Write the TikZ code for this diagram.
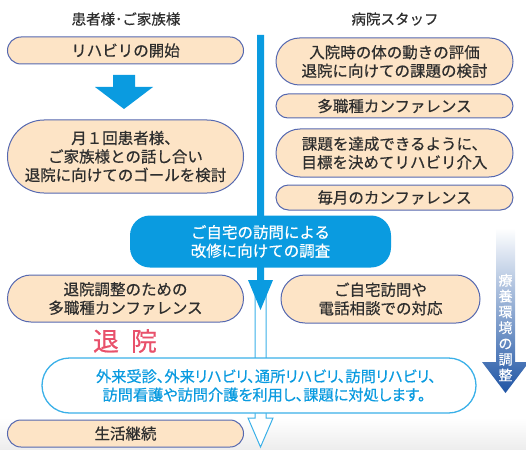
\documentclass[tikz,border=0pt]{standalone}
\usepackage{fontspec}
\newfontfamily\jpfont{Noto Sans CJK JP}[FakeBold=0.5]
\newfontfamily\jppfont{Noto Sans CJK JP}[FakeBold=0.5,RawFeature=+palt]
\usetikzlibrary{shapes.misc}
\definecolor{boxfill}{HTML}{FDE4C6}
\definecolor{boxline}{HTML}{5568B0}
\definecolor{flowblue}{HTML}{0A9BE0}
\definecolor{lineblue}{HTML}{3AB0E8}
\definecolor{textgray}{HTML}{2E2E2E}
\definecolor{leavered}{HTML}{E8516B}
\definecolor{darkblue}{HTML}{1F55A5}
\tikzset{
  pill/.style={rounded rectangle, draw=boxline, fill=boxfill, line width=1pt,
    inner sep=0pt, align=center, text=textgray,
    font=\jpfont\fontsize{15.5}{18.5}\selectfont},
  head/.style={text=textgray, font=\jpfont\fontsize{14.5}{17}\selectfont}
}
\begin{document}
\begin{tikzpicture}[x=1pt,y=-1pt]
    \useasboundingbox (0,0) rectangle (526,449);
    \shade[top color=white,bottom color=gray!14] (0,418) rectangle (526,449);
    \node[head] (hpat) at (126,19) {患者様･ご家族様};
    \node[head] (hstaff) at (395,19) {病院スタッフ};
    \coordinate (flowtop) at (260.5,35);
    \coordinate (flowhead) at (260.5,280);
    \coordinate (flowtip) at (260.5,310);
    \coordinate (homehead) at (260.5,418);
    \coordinate (hometip) at (260.5,447);
    % open arrow down to the end
    \draw[lineblue,fill=white,line width=1pt] ([xshift=-5.5]flowhead) -- ([xshift=-5.5]homehead)
        -- ([xshift=-12.5]homehead) -- (hometip) -- ([xshift=12.5]homehead)
        -- ([xshift=5.5]homehead) -- ([xshift=5.5]flowhead);
    % main blue arrow
    \fill[flowblue] ([xshift=-3.5]flowtop) -- ([xshift=-3.5]flowhead) -- ([xshift=-12.5]flowhead)
        -- (flowtip) -- ([xshift=12.5]flowhead) -- ([xshift=3.5]flowhead) -- ([xshift=3.5]flowtop) -- cycle;
    \node[fill=flowblue,rounded corners=20pt,minimum width=261,minimum height=52,inner sep=0pt,
        text=white,align=center,font=\jpfont\fontsize{15.5}{18.5}\selectfont] (survey) at (260.5,241.5)
        {ご自宅の訪問による\\改修に向けての調査};
    \node[rounded rectangle,draw=lineblue,fill=white,line width=1.3pt,minimum width=434,minimum height=55,
        inner sep=0pt,text=flowblue,align=center,font=\jppfont\fontsize{15.2}{18.5}\selectfont] (home) at (259,385.5)
        {\hspace*{14pt}外来受診、外来リハビリ、通所リハビリ、訪問リハビリ、\\\hspace*{10pt}訪問看護や訪問介護を利用し、課題に対処します。};
    % patient side
    \foreach \n/\y/\h/\t in {start/50.5/27/{リハビリの開始},
        talk/156.5/73/{月１回患者様、\\ご家族様との話し合い\\退院に向けてのゴールを検討},
        plan/298.5/47/{退院調整のための\\多職種カンファレンス},
        life/433.5/27/{生活継続}} {
        \node[pill,minimum width=236,minimum height=\h] (\n) at (125.5,\y) {\t};
    }
    \fill[flowblue] (113,75) -- (113,87) -- (95,87) -- (124,109) -- (153,87) -- (135,87) -- (135,75) -- cycle;
    % staff side
    \foreach \n/\y/\h/\t in {eval/61.5/47/{入院時の体の動きの評価\\退院に向けての課題の検討},
        conf/106/24/{多職種カンファレンス},
        goal/153/48/{課題を達成できるように、\\目標を決めてリハビリ介入},
        monthly/197.5/25/{毎月のカンファレンス}} {
        \node[pill,minimum width=237,minimum height=\h] (\n) at (394.5,\y) {\t};
    }
    \node[pill,minimum width=199,minimum height=48] (visit) at (380.5,299) {ご自宅訪問や\\電話相談での対応};
    \node[text=leavered,font=\jpfont\fontsize{26}{26}\selectfont] (leave) at (125,341) {退\hspace{12pt}院};
    % environment arrow
    \shade[top color=white,middle color=blue!45!flowblue!70!darkblue,bottom color=darkblue]
        (496,228) -- (496,362) -- (482,362) -- (505.5,393) -- (529,362) -- (515,362) -- (515,228) -- cycle;
    \node[text=white,align=center,font=\jpfont\fontsize{14}{15.8}\selectfont] (env) at (505.5,327.5)
        {療\\養\\環\\境\\の\\調\\整};
\end{tikzpicture}
\end{document}
